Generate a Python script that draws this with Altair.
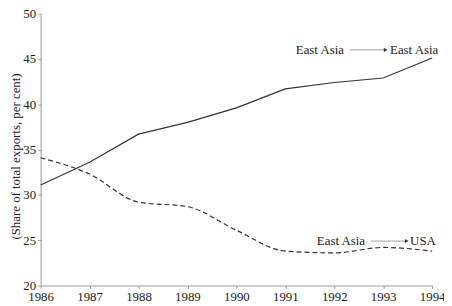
import altair as alt
import pandas as pd

years = [1986, 1987, 1988, 1989, 1990, 1991, 1992, 1993, 1994]
east_asia_to_east_asia = [31.1, 33.6, 36.7, 38.0, 39.6, 41.7, 42.4, 42.9, 45.1]
east_asia_to_usa = [34.1, 32.3, 29.2, 28.7, 26.1, 23.8, 23.6, 24.2, 23.8]

ann_left_text = ["East Asia", "East Asia"]
ann_right_text = ["East Asia", "USA"]
ann_y = [46.0, 24.9]
ann_arrow_start = [1992.32, 1992.75]
ann_arrow_end = [1993.05, 1993.48]
ann_right_x = [1993.14, 1993.55]

FONT = "Liberation Serif"

solid_df = pd.DataFrame({"year": years, "share": east_asia_to_east_asia})
dash_df = pd.DataFrame({"year": years, "share": east_asia_to_usa})
ann_df = pd.DataFrame({
    "left": ann_left_text, "right": ann_right_text, "y": ann_y,
    "x1": ann_arrow_start, "x2": ann_arrow_end, "xr": ann_right_x,
})

xscale = alt.Scale(domain=[1986, 1994], nice=False, zero=False)
yscale = alt.Scale(domain=[20, 50], nice=False, zero=False)

xaxis = alt.Axis(values=years, format="d", title=None, grid=False, labelFont=FONT,
                 labelFontSize=13, labelColor="#222", domainColor="#999", tickColor="#999",
                 tickSize=3, labelPadding=2, labelFlush=False)
yaxis = alt.Axis(values=[20, 25, 30, 35, 40, 45, 50], title="(Share of total exports, per cent)",
                 grid=False, labelFont=FONT, labelFontSize=13, labelColor="#222",
                 domainColor="#999", tickColor="#999", tickSize=3, labelPadding=2,
                 titleFont=FONT, titleFontSize=13, titleFontWeight="normal", titleColor="#222",
                 titleX=-25, titleY=144, titleAngle=-90, titleAlign="center", titleBaseline="middle")

solid = alt.Chart(solid_df).mark_line(color="#333", strokeWidth=1.2).encode(
    x=alt.X("year:Q", scale=xscale, axis=xaxis),
    y=alt.Y("share:Q", scale=yscale, axis=yaxis),
)
dashed = alt.Chart(dash_df).mark_line(color="#333", strokeWidth=1.2, strokeDash=[5, 3],
                                      interpolate="monotone").encode(
    x=alt.X("year:Q", scale=xscale),
    y=alt.Y("share:Q", scale=yscale),
)

base = alt.Chart(ann_df)
left_txt = base.mark_text(font=FONT, fontSize=13, color="#222", align="right", baseline="middle", dx=-6).encode(
    x=alt.X("x1:Q", scale=xscale), y=alt.Y("y:Q", scale=yscale), text="left:N")
right_txt = base.mark_text(font=FONT, fontSize=13, color="#222", align="left", baseline="middle").encode(
    x=alt.X("xr:Q", scale=xscale), y=alt.Y("y:Q", scale=yscale), text="right:N")
arrow_line = base.mark_rule(color="#888", strokeWidth=0.8).encode(
    x=alt.X("x1:Q", scale=xscale), x2="x2:Q", y=alt.Y("y:Q", scale=yscale))
arrow_head = base.mark_point(shape="triangle-right", size=18, filled=True, color="#333", opacity=1).encode(
    x=alt.X("x2:Q", scale=xscale), y=alt.Y("y:Q", scale=yscale))

chart = alt.layer(solid, dashed, arrow_line, arrow_head, left_txt, right_txt).properties(
    width=396, height=275,
    autosize=alt.AutoSizeParams(type="none"),
    padding={"left": 33, "top": 4, "right": 12, "bottom": 17},
    background="white",
).configure_view(stroke=None)

chart.save("out.html", embed_options={"renderer": "svg", "actions": False})
